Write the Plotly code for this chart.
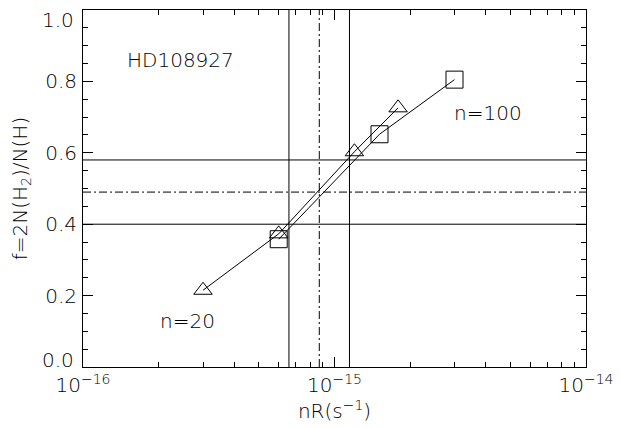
import plotly.graph_objects as go

# data
tri_x = [3.0e-16, 6.0e-16, 1.2e-15, 1.79e-15]
tri_y = [0.215, 0.373, 0.603, 0.726]
sq_x = [6.0e-16, 1.51e-15, 3.0e-15]
sq_y = [0.358, 0.652, 0.805]
vlines_solid = [6.59e-16, 1.147e-15]
vline_dashdot = [8.7e-16]
hlines_solid = [0.40, 0.58]
hline_dashdot = [0.49]
x_major = [1e-16, 1e-15, 1e-14]
x_major_text = ["10<sup>\u221216</sup>", "10<sup>\u221215</sup>", "10<sup>\u221214</sup>"]
x_minor = [k * 1e-16 for k in range(2, 10)] + [k * 1e-15 for k in range(2, 10)]
y_ticks = [0.0, 0.2, 0.4, 0.6, 0.8, 1.0]
y_ticktext = ["", "0.2", "0.4", "0.6", "0.8", ""]
# end labels are drawn slightly inside the axis box, as in the original
y_edge_labels = [(0.0, "0.0", 7), (1.0, "1.0", -10)]

FONT = "DejaVu Sans"
W = 200
DASHDOT = "8px,3px,2px,3px"
fig = go.Figure()

fig.add_trace(go.Scatter(x=tri_x, y=tri_y, mode="lines+markers",
                         line=dict(color="black", width=1),
                         marker=dict(symbol="triangle-up-open", size=16,
                                     color="black", line=dict(width=1, color="black")),
                         showlegend=False))
fig.add_trace(go.Scatter(x=sq_x, y=sq_y, mode="lines+markers",
                         line=dict(color="black", width=1),
                         marker=dict(symbol="square-open", size=17,
                                     color="black", line=dict(width=1, color="black")),
                         showlegend=False))

for v in vlines_solid:
    fig.add_shape(type="line", xref="x", yref="y domain", x0=v, x1=v, y0=0, y1=1,
                  line=dict(color="black", width=1))
for v in vline_dashdot:
    fig.add_shape(type="line", xref="x", yref="y domain", x0=v, x1=v, y0=0, y1=1,
                  line=dict(color="black", width=1, dash=DASHDOT))
for h in hlines_solid:
    fig.add_shape(type="line", xref="x domain", yref="y", x0=0, x1=1, y0=h, y1=h,
                  line=dict(color="black", width=1))
for h in hline_dashdot:
    fig.add_shape(type="line", xref="x domain", yref="y", x0=0, x1=1, y0=h, y1=h,
                  line=dict(color="black", width=1, dash=DASHDOT))

fig.add_annotation(x=-15.833, y=0.86, xref="x", yref="y", text="HD108927",
                   showarrow=False, xanchor="left", yanchor="middle",
                   font=dict(family=FONT, size=20, color="black", weight=W))
fig.add_annotation(x=-14.534, y=0.711, xref="x", yref="y", text="n=100",
                   showarrow=False, xanchor="left", yanchor="middle",
                   font=dict(family=FONT, size=20, color="black", weight=W))
fig.add_annotation(x=-15.70, y=0.129, xref="x", yref="y", text="n=20",
                   showarrow=False, xanchor="left", yanchor="middle",
                   font=dict(family=FONT, size=20, color="black", weight=W))
for yv, txt, sh in y_edge_labels:
    fig.add_annotation(x=0, y=yv, xref="paper", yref="y", text=txt,
                       showarrow=False, xanchor="right", yanchor="middle",
                       xshift=-7, yshift=sh,
                       font=dict(family=FONT, size=20, color="black", weight=W))

# the page body adds an 8px offset, so the figure is sized/margined to compensate
fig.update_layout(
    width=613, height=420,
    margin=dict(l=75, r=35, t=2, b=61),
    paper_bgcolor="white", plot_bgcolor="white",
    font=dict(family=FONT, size=20, color="black", weight=W),
    xaxis=dict(type="log", range=[-16, -14], tickmode="array", tickvals=x_major,
               ticktext=x_major_text, automargin=False, ticklabeloverflow="allow",
               showgrid=False, zeroline=False, showline=True, linecolor="black",
               linewidth=1, mirror="ticks", ticks="inside", ticklen=10,
               tickcolor="black", tickwidth=1,
               tickfont=dict(family=FONT, size=20, weight=W),
               minor=dict(tickmode="array", tickvals=x_minor, ticks="inside",
                          ticklen=5, tickcolor="black", showgrid=False),
               title=dict(text="nR(s<sup>\u22121</sup>)", standoff=3,
                          font=dict(family=FONT, size=20, weight=W))),
    yaxis=dict(range=[0, 1.0001], tickmode="array", tickvals=y_ticks,
               ticktext=y_ticktext,
               automargin=False, ticklabeloverflow="allow", ticklabelstandoff=1,
               showgrid=False, zeroline=False, showline=True, linecolor="black",
               linewidth=1, mirror="ticks", ticks="inside", ticklen=10,
               tickcolor="black", tickwidth=1,
               tickfont=dict(family=FONT, size=20, weight=W),
               minor=dict(dtick=0.05, ticks="inside", ticklen=5, tickcolor="black",
                          showgrid=False),
               title=dict(text="f=2N(H<sub>2</sub>)/N(H)", standoff=15,
                          font=dict(family=FONT, size=20, weight=W))),
)

fig.write_html("out.html")
